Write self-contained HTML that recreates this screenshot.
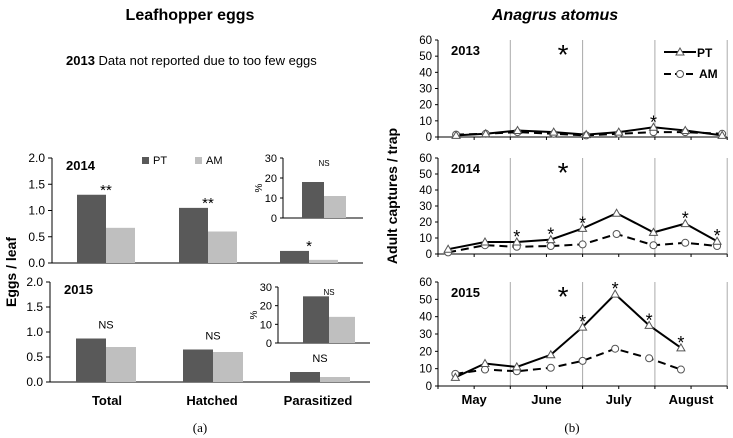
<!DOCTYPE html>
<html><head><meta charset="utf-8">
<style>
html,body{margin:0;padding:0;background:#fff;}
svg{display:block;font-family:"Liberation Sans",sans-serif;}
</style></head>
<body>
<svg id="fig" width="733" height="438" viewBox="0 0 733 438" xmlns="http://www.w3.org/2000/svg">
<text x="190" y="20" font-size="16" font-weight="bold" text-anchor="middle">Leafhopper eggs</text>
<text x="66" y="65" font-size="13"><tspan font-weight="bold">2013</tspan>  Data not reported due to too few eggs</text>
<text x="555" y="20" font-size="16" font-weight="bold" font-style="italic" text-anchor="middle">Anagrus atomus</text>
<text x="16" y="272" font-size="14" font-weight="bold" text-anchor="middle" transform="rotate(-90 16 272)">Eggs / leaf</text>
<text x="397" y="196" font-size="14" font-weight="bold" text-anchor="middle" transform="rotate(-90 397 196)">Adult captures / trap</text>
<text x="200" y="432" font-size="13" text-anchor="middle" font-family="Liberation Serif,serif">(a)</text>
<text x="572" y="432" font-size="13" text-anchor="middle" font-family="Liberation Serif,serif">(b)</text>
<g id="g"></g>
</svg>
<script>
// ---- Left bar chart data ----
const categories = ["Total", "Hatched", "Parasitized"];
const pt2014 = [1.3, 1.05, 0.23];
const am2014 = [0.67, 0.6, 0.06];
const pt2015 = [0.87, 0.65, 0.2];
const am2015 = [0.7, 0.6, 0.1];
const sig2014 = ["**", "**", "*"];
const sig2015 = ["NS", "NS", "NS"];
const eggTicks = ["0.0", "0.5", "1.0", "1.5", "2.0"];
const insetPT = [18, 25];
const insetAM = [11, 14];
const insetTicks = [0, 10, 20, 30];
// ---- Right line chart data ----
const yearsR = ["2013", "2014", "2015"];
const ptR2013 = [1, 2, 4, 3, 1.5, 3, 6, 4, 1];
const amR2013 = [1.5, 2, 3, 2, 1, 2, 3, 3, 2];
const ptR2014 = [3, 7.5, 7.5, 9, 16, 25.5, 13.5, 19, 8];
const amR2014 = [1, 5.5, 4.5, 5, 6, 12.5, 5.5, 7, 5];
const ptR2015 = [5, 13, 11, 18, 34, 53, 35, 22];
const amR2015 = [7, 9.5, 8.5, 10.5, 14.5, 21.5, 16, 9.5];
const weekPos2013 = [0.25, 0.66, 1.1, 1.6, 2.05, 2.5, 2.98, 3.42, 3.93];
const weekPos2014 = [0.14, 0.65, 1.09, 1.56, 2.0, 2.47, 2.98, 3.42, 3.86];
const weekPos2015 = [0.24, 0.65, 1.09, 1.56, 2.0, 2.45, 2.92, 3.36];
const stars2013 = [6];
const stars2014 = [2, 3, 4, 7, 8];
const stars2015 = [4, 5, 6, 7];
const months = ["May", "June", "July", "August"];
const rTicks = [0, 10, 20, 30, 40, 50, 60];

const NS = "http://www.w3.org/2000/svg";
const G = document.getElementById('g');
function el(tag, attrs, parent, txt) {
  const e = document.createElementNS(NS, tag);
  for (const k in attrs) e.setAttribute(k, attrs[k]);
  if (txt !== undefined) e.textContent = txt;
  (parent || G).appendChild(e);
  return e;
}
const DARK = "#595959", LIGHT = "#bfbfbf";

function barPanel(y0, y2, axL, axR, groupX, barW, pt, am, sig, year, name, showLegend) {
  const g = el('g', {});  
  const ys = v => y0 - (v / 2) * (y0 - y2);
  el('line', {x1: axL, y1: y2, x2: axL, y2: y0, stroke: '#000', 'stroke-width': 1}, g);
  el('line', {x1: axL, y1: y0, x2: axR, y2: y0, stroke: '#000', 'stroke-width': 1}, g);
  eggTicks.forEach((t, i) => {
    const y = ys(parseFloat(t));
    el('line', {x1: axL - 4, y1: y, x2: axL, y2: y, stroke: '#000'}, g);
    const tx = el('text', {x: axL - 7, y: y + 4, 'font-size': 12, 'text-anchor': 'end'}, g, t);
     
  });
  const yr = el('text', {x: axL + 14, y: y2 + 12, 'font-size': 13, 'font-weight': 'bold'}, g, year);
   
  categories.forEach((c, i) => {
    const x = groupX[i];
    const b1 = el('rect', {x: x, y: ys(pt[i]), width: barW, height: y0 - ys(pt[i]), fill: DARK}, g);
     
    const b2 = el('rect', {x: x + barW, y: ys(am[i]), width: barW, height: y0 - ys(am[i]), fill: LIGHT}, g);
     
    const isNS = sig[i] === 'NS';
    const s = el('text', {x: x + barW, y: ys(Math.max(pt[i], am[i])) - (isNS ? 10 : 0), 'font-size': isNS ? 11 : 15, 'text-anchor': 'middle'}, g, sig[i]);
     
  });
  if (showLegend) {
    el('rect', {x: 142, y: y2 - 1, width: 7, height: 7, fill: DARK}, g);
    const t1 = el('text', {x: 153, y: y2 + 6, 'font-size': 11}, g, 'PT');
     
    el('rect', {x: 195, y: y2 - 1, width: 7, height: 7, fill: LIGHT}, g);
    const t2 = el('text', {x: 206, y: y2 + 6, 'font-size': 11}, g, 'AM');
     
  }
}
barPanel(263, 158, 52, 363, [77, 179, 280], 29, pt2014, am2014, sig2014, '2014', 'chart-eggs-2014', true);
barPanel(382, 282, 50, 370, [76, 183, 290], 30, pt2015, am2015, sig2015, '2015', 'chart-eggs-2015', false);
categories.forEach((c, i) => {
  const t = el('text', {x: [107, 212, 318][i], y: 405, 'font-size': 13, 'font-weight': 'bold', 'text-anchor': 'middle'}, G, c);
   
});
function inset(idx, axL, axR, y0, y30, bx, bw, name) {
  const g = el('g', {});  
  const ys = v => y0 - (v / 30) * (y0 - y30);
  el('line', {x1: axL, y1: y30, x2: axL, y2: y0, stroke: '#000'}, g);
  el('line', {x1: axL, y1: y0, x2: axR, y2: y0, stroke: '#000'}, g);
  insetTicks.forEach(t => {
    el('line', {x1: axL - 3, y1: ys(t), x2: axL, y2: ys(t), stroke: '#000'}, g);
    el('text', {x: axL - 6, y: ys(t) + 4, 'font-size': 11, 'text-anchor': 'end'}, g, String(t));
  });
  const b1 = el('rect', {x: bx, y: ys(insetPT[idx]), width: bw, height: y0 - ys(insetPT[idx]), fill: DARK}, g);
   
  const b2 = el('rect', {x: bx + bw, y: ys(insetAM[idx]), width: bw, height: y0 - ys(insetAM[idx]), fill: LIGHT}, g);
   
  el('text', {x: bx + bw, y: y30 + 8, 'font-size': 8, 'text-anchor': 'middle'}, g, 'NS');
  el('text', {x: axL - 24, y: (y0 + y30) / 2 + 3, 'font-size': 10, 'text-anchor': 'middle', transform: `rotate(-90 ${axL - 24} ${(y0 + y30) / 2})`}, g, '%');
}
inset(0, 283, 363, 218, 158, 302, 22, 'inset-parasitized-2014');
inset(1, 278, 370, 343, 287, 303, 26, 'inset-parasitized-2015');

const X0 = 438, MW = 72.3;
const xm = m => X0 + m * MW;
function linePanel(y0, y60, pos, pt, am, stars, year, name, legend, monthLabels) {
  const g = el('g', {});  
  const ys = v => y0 - (v / 60) * (y0 - y60);
  for (let m = 1; m <= 4; m++) el('line', {x1: xm(m), y1: y60, x2: xm(m), y2: y0, stroke: '#aaa', 'stroke-width': 1}, g);
  el('line', {x1: X0, y1: y60, x2: X0, y2: y0, stroke: '#000'}, g);
  el('line', {x1: X0, y1: y0, x2: xm(4), y2: y0, stroke: '#000'}, g);
  for (let h = 0; h <= 8; h++) el('line', {x1: xm(h / 2), y1: y0, x2: xm(h / 2), y2: y0 + 3, stroke: '#000'}, g);
  rTicks.forEach(t => {
    el('line', {x1: X0 - 3, y1: ys(t), x2: X0, y2: ys(t), stroke: '#000'}, g);
    const tx = el('text', {x: X0 - 6, y: ys(t) + 4, 'font-size': 11.5, 'text-anchor': 'end'}, g, String(t));
     
  });
  const yr = el('text', {x: X0 + 13, y: y60 + 15, 'font-size': 13, 'font-weight': 'bold'}, g, year);
   
  el('text', {x: xm(1.73), y: y60 + 24, 'font-size': 28, 'text-anchor': 'middle'}, g, '*');
  const ptPts = pt.map((v, i) => [xm(pos[i]), ys(v)]);
  const amPts = am.map((v, i) => [xm(pos[i]), ys(v)]);
  const l2 = el('polyline', {points: amPts.map(p => p.join(',')).join(' '), fill: 'none', stroke: '#000', 'stroke-width': 2, 'stroke-dasharray': '8,5'}, g);
   
  const l1 = el('polyline', {points: ptPts.map(p => p.join(',')).join(' '), fill: 'none', stroke: '#000', 'stroke-width': 2}, g);
   
  amPts.forEach(p => {
    const c = el('circle', {cx: p[0], cy: p[1], r: 3.5, fill: '#fff', stroke: '#555', 'stroke-width': 1}, g);
     
  });
  ptPts.forEach(p => {
    const t = el('polygon', {points: `${p[0]},${p[1] - 4} ${p[0] - 4},${p[1] + 3} ${p[0] + 4},${p[1] + 3}`, fill: '#fff', stroke: '#555', 'stroke-width': 1}, g);
     
  });
  stars.forEach(i => {
    const s = el('text', {x: ptPts[i][0], y: ptPts[i][1] + 1, 'font-size': 18, 'text-anchor': 'middle'}, g, '*');
     
  });
  if (legend) {
    el('line', {x1: 664, y1: 52, x2: 696, y2: 52, stroke: '#000', 'stroke-width': 2}, g);
    el('polygon', {points: '680,48 676,55 684,55', fill: '#fff', stroke: '#555'}, g);
    const a = el('text', {x: 697, y: 57, 'font-size': 12, 'font-weight': 'bold'}, g, 'PT');
     
    el('line', {x1: 664, y1: 74, x2: 696, y2: 74, stroke: '#000', 'stroke-width': 2, 'stroke-dasharray': '7,4'}, g);
    el('circle', {cx: 680, cy: 74, r: 3.5, fill: '#fff', stroke: '#555'}, g);
    const b = el('text', {x: 699, y: 78, 'font-size': 12, 'font-weight': 'bold'}, g, 'AM');
     
  }
  if (monthLabels) months.forEach((m, i) => {
    const t = el('text', {x: xm(i + 0.5), y: 404, 'font-size': 13, 'font-weight': 'bold', 'text-anchor': 'middle'}, g, m);
     
  });
}
linePanel(137, 40, weekPos2013, ptR2013, amR2013, stars2013, yearsR[0], 'chart-anagrus-2013', true, false);
linePanel(254, 158, weekPos2014, ptR2014, amR2014, stars2014, yearsR[1], 'chart-anagrus-2014', false, false);
linePanel(386, 282, weekPos2015, ptR2015, amR2015, stars2015, yearsR[2], 'chart-anagrus-2015', false, true);
</script>
</body></html>
